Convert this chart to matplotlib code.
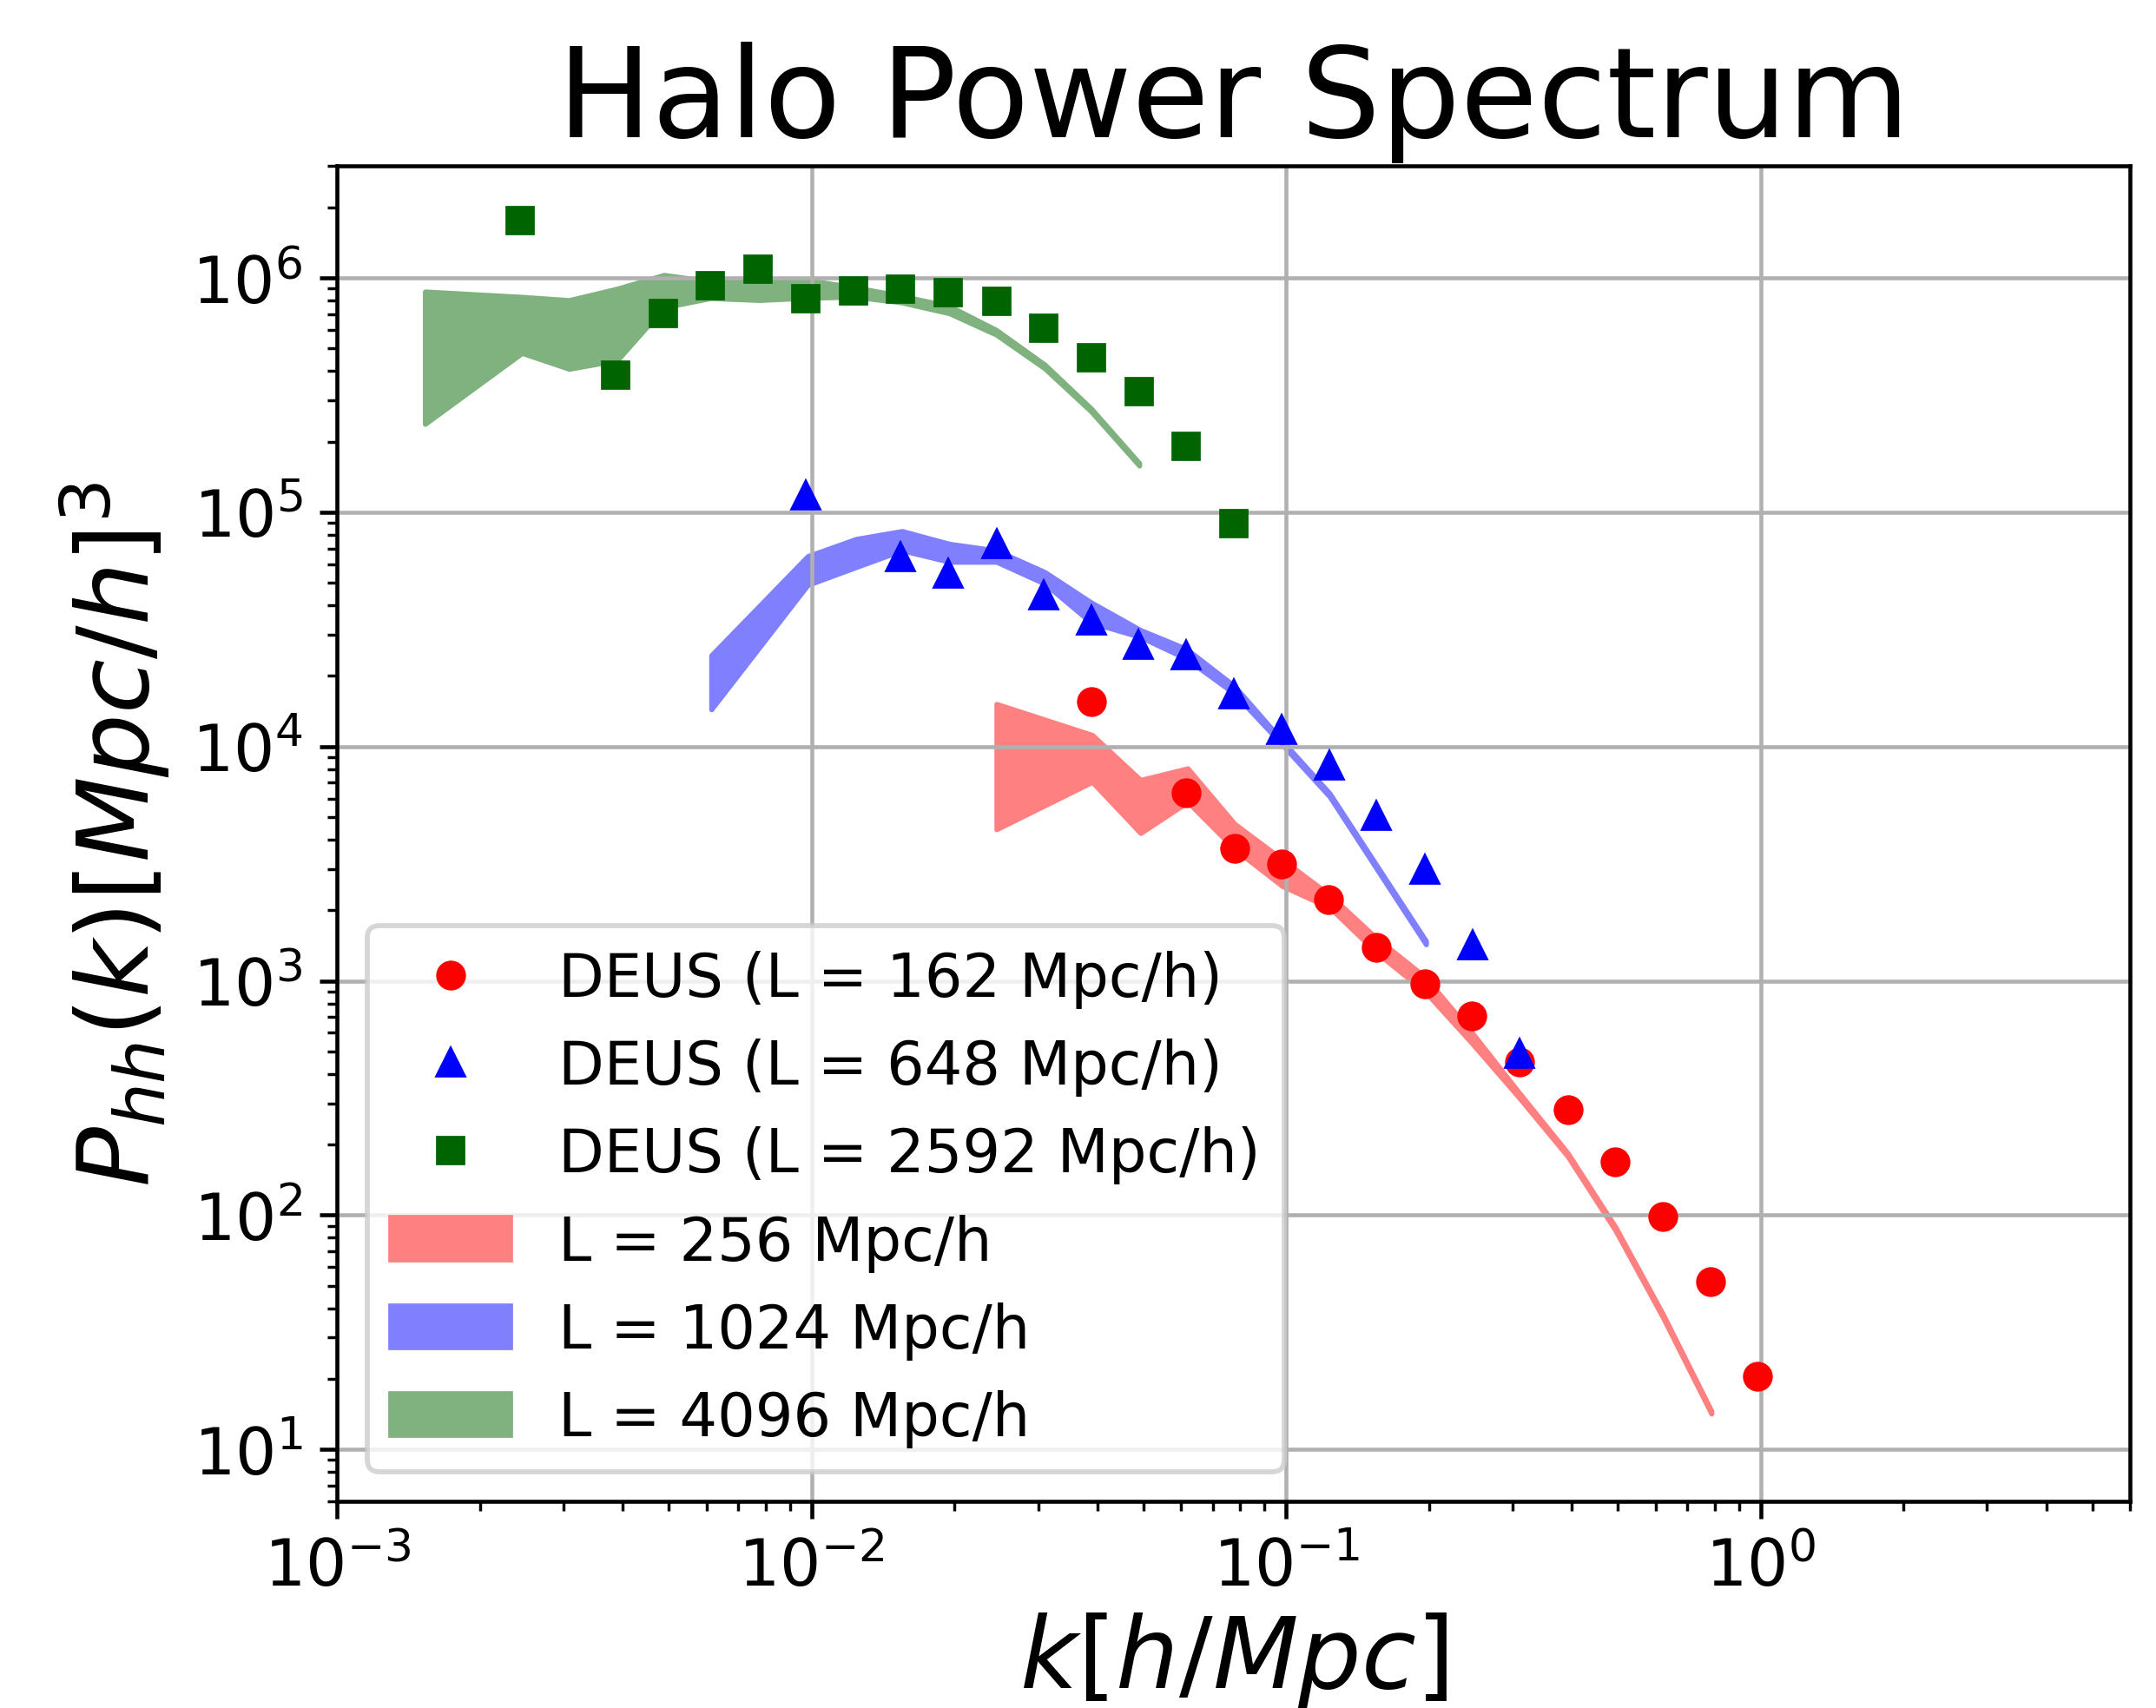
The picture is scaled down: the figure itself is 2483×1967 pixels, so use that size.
import matplotlib
matplotlib.use("Agg")
import matplotlib.pyplot as plt

# DEUS simulation points
k162 = [0.0388, 0.0616, 0.0778, 0.0978, 0.123, 0.155, 0.196, 0.2465, 0.310, 0.392, 0.493, 0.621, 0.783, 0.986]
P162 = [1.56e4, 6.37e3, 3.66e3, 3.16e3, 2.22e3, 1.39e3, 973, 705, 450, 281, 169, 98.9, 52, 20.5]

k648 = [0.00971, 0.0154, 0.0194, 0.0245, 0.0308, 0.0388, 0.0488, 0.0616, 0.0776, 0.0979, 0.1233, 0.155, 0.196, 0.247, 0.310]
P648 = [1.17e5, 6.4e4, 5.47e4, 7.26e4, 4.39e4, 3.45e4, 2.71e4, 2.44e4, 1.67e4, 1.17e4, 8.3e3, 5.05e3, 2.97e3, 1.41e3, 488]

k2592 = [0.00243, 0.00386, 0.00487, 0.00612, 0.00771, 0.00973, 0.01225, 0.0154, 0.0194, 0.0245, 0.0308, 0.0388, 0.0489, 0.0615, 0.0775]
P2592 = [1.75e6, 3.84e5, 7.03e5, 9.27e5, 1.09e6, 8.15e5, 8.8e5, 8.96e5, 8.66e5, 7.92e5, 6.11e5, 4.57e5, 3.26e5, 1.91e5, 8.97e4]

# Bands
k256 = [0.0245, 0.039, 0.0493, 0.062, 0.0778, 0.098, 0.1236, 0.155, 0.196, 0.2465, 0.31, 0.392, 0.494, 0.622, 0.787]
up256 = [1.52e4, 1.12e4, 7.2e3, 8.07e3, 4.68e3, 3.3e3, 2.32e3, 1.52e3, 1.04e3, 600, 332, 184, 89, 37.8, 14.6]
lo256 = [4.43e3, 7.06e3, 4.27e3, 5.8e3, 3.65e3, 2.54e3, 2.05e3, 1.32e3, 900, 540, 316, 178, 86, 36.6, 14.2]

k1024 = [0.00614, 0.0098, 0.0124, 0.0155, 0.0195, 0.0245, 0.031, 0.0388, 0.0493, 0.0616, 0.0778, 0.098, 0.1235, 0.156, 0.197]
up1024 = [2.45e4, 6.49e4, 7.69e4, 8.31e4, 7.33e4, 6.87e4, 5.55e4, 4.12e4, 3.14e4, 2.61e4, 1.81e4, 1.06e4, 6.3e3, 3.05e3, 1.48e3]
lo1024 = [1.44e4, 4.89e4, 5.83e4, 6.87e4, 6.14e4, 6.14e4, 4.95e4, 3.38e4, 2.93e4, 2.37e4, 1.68e4, 1.02e4, 6.1e3, 2.95e3, 1.43e3]

k4096 = [0.00153, 0.00245, 0.00308, 0.00389, 0.00488, 0.00612, 0.00775, 0.00977, 0.0123, 0.0155, 0.0195, 0.0245, 0.0310, 0.0388, 0.0490]
up4096 = [8.75e5, 8.3e5, 8.04e5, 9.0e5, 1.03e6, 9.66e5, 9.73e5, 9.8e5, 9.12e5, 8.37e5, 7.58e5, 5.99e5, 4.26e5, 2.77e5, 1.62e5]
lo4096 = [2.38e5, 4.78e5, 4.09e5, 4.45e5, 7.48e5, 8.2e5, 8.04e5, 8.22e5, 8.31e5, 7.85e5, 7.06e5, 5.72e5, 4.10e5, 2.69e5, 1.58e5]

# half-transparent band colours flattened onto white
RED_BAND = '#ff8080'
BLUE_BAND = '#8080ff'
GREEN_BAND = '#80b280'

DPI = 412
fig = plt.figure(figsize=(2483 / DPI, 1968 / DPI), dpi=DPI)
ax = fig.add_axes([0.15646, 0.12093, 0.83145, 0.78135])

ax.plot(k162, P162, 'o', color='red', markersize=5, label='DEUS (L = 162 Mpc/h)')
ax.plot(k648, P648, '^', color='blue', markersize=5, label='DEUS (L = 648 Mpc/h)')
ax.plot(k2592, P2592, 's', color='darkgreen', markersize=5, label='DEUS (L = 2592 Mpc/h)')

ax.fill_between(k256, lo256, up256, facecolor=RED_BAND, edgecolor=RED_BAND, linewidth=1,
                label='L = 256 Mpc/h')
ax.fill_between(k1024, lo1024, up1024, facecolor=BLUE_BAND, edgecolor=BLUE_BAND, linewidth=1,
                label='L = 1024 Mpc/h')
ax.fill_between(k4096, lo4096, up4096, facecolor=GREEN_BAND, edgecolor=GREEN_BAND, linewidth=1,
                label='L = 4096 Mpc/h')

ax.set_xscale('log')
ax.set_yscale('log')
ax.set_xlim(1e-3, 6)
ax.set_ylim(6, 3e6)
ax.grid(True, which='major')
ax.tick_params(labelsize=13)

ax.set_title('Halo Power Spectrum', fontsize=25.3)
ax.set_xlabel(r'$k[h/Mpc]$', fontsize=20, labelpad=2)
ax.set_ylabel(r'$P_{hh}(k)[Mpc/h]^3$', fontsize=20)
ax.legend(loc='lower left', fontsize=12)

fig.savefig('out.png', dpi=DPI)
